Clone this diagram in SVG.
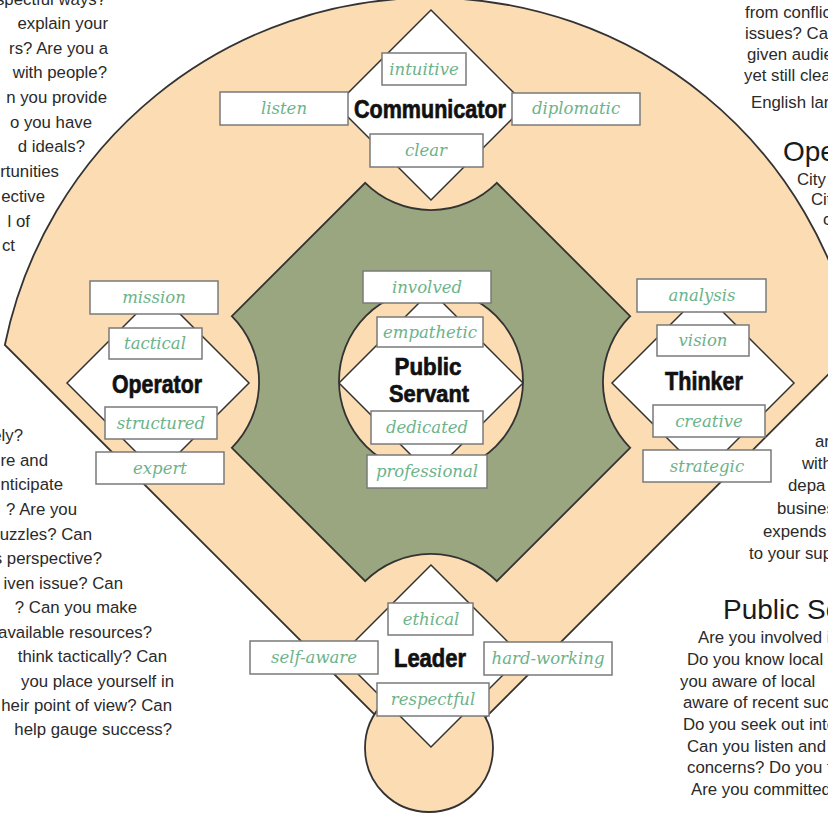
<svg xmlns="http://www.w3.org/2000/svg" width="828" height="814" viewBox="0 0 828 814">
<style>
.field{fill:#fbdcb3;stroke:#333;stroke-width:1.8}
.grass{fill:#99a67f;stroke:#333;stroke-width:1.8}
.base{fill:#fff;stroke:#333;stroke-width:1.5}
.box{fill:#fff;stroke:#7a7a7a;stroke-width:1.5}
.kw{font-family:"DejaVu Serif","Liberation Serif",serif;font-style:italic;font-size:16.5px;fill:#6cb38a;text-anchor:middle}
.title{font-family:"Liberation Sans Narrow","Liberation Sans",Arial,sans-serif;font-weight:bold;font-size:26px;fill:#111;stroke:#111;stroke-width:0.7;text-anchor:middle}
.title2{font-size:24px}
.body{font-family:"Liberation Sans",Arial,sans-serif;font-size:16.8px;fill:#2a2a2a}
.end{text-anchor:end}
.head{font-family:"Liberation Sans",Arial,sans-serif;font-size:28px;fill:#1a1a1a}
</style>
<rect width="828" height="814" fill="#fff"/>

<g id="field">
  <path class="field" d="M431.5,771.5 L4.85,345 A434,434 0 0 1 855.7,347 Z"/>
  <path class="grass" d="M365.2,182.8 A93,93 0 0 0 496.8,182.8 L630.2,316.2 A93,93 0 0 0 630.2,447.8 L496.8,581.2 A93,93 0 0 0 365.2,581.2 L231.8,447.8 A93,93 0 0 0 231.8,316.2 Z"/>
  <circle class="field" cx="431" cy="381" r="92"/>
  <circle class="field" cx="429" cy="748" r="64"/>
</g>

<g id="connectors"></g>

<g id="communicator">
  <polygon class="base" points="431,10 526,105 431,200 336,105"/>
  <rect class="box" x="382" y="53" width="84" height="32"/>
  <rect class="box" x="220" y="92" width="128" height="33"/>
  <rect class="box" x="512" y="93" width="128" height="32"/>
  <rect class="box" x="370" y="134" width="113" height="33"/>
  <text class="kw" x="424" y="75">intuitive</text>
  <text class="kw" x="284" y="114">listen</text>
  <text class="kw" x="576" y="114">diplomatic</text>
  <text class="kw" x="426" y="156">clear</text>
  <text class="title" x="430" y="118" textLength="152" lengthAdjust="spacingAndGlyphs">Communicator</text>
</g>

<g id="operator">
  <polygon class="base" points="158,292 249,383 158,474 67,383"/>
  <rect class="box" x="90" y="281" width="128" height="33"/>
  <rect class="box" x="109" y="328" width="93" height="31"/>
  <rect class="box" x="105" y="407" width="112" height="32"/>
  <rect class="box" x="96" y="452" width="128" height="32"/>
  <text class="kw" x="154" y="303">mission</text>
  <text class="kw" x="155" y="349">tactical</text>
  <text class="kw" x="161" y="429">structured</text>
  <text class="kw" x="160" y="474">expert</text>
  <text class="title" x="157" y="393" textLength="90" lengthAdjust="spacingAndGlyphs">Operator</text>
</g>

<g id="thinker">
  <polygon class="base" points="703,292 794,383 703,474 612,383"/>
  <rect class="box" x="637" y="279" width="129" height="33"/>
  <rect class="box" x="657" y="325" width="92" height="31"/>
  <rect class="box" x="653" y="405" width="112" height="32"/>
  <rect class="box" x="643" y="450" width="128" height="32"/>
  <text class="kw" x="702" y="301">analysis</text>
  <text class="kw" x="703" y="346">vision</text>
  <text class="kw" x="709" y="427">creative</text>
  <text class="kw" x="707" y="472">strategic</text>
  <text class="title" x="704" y="390" textLength="78" lengthAdjust="spacingAndGlyphs">Thinker</text>
</g>

<g id="public-servant">
  <polygon class="base" points="431,291 523,383 431,475 339,383"/>
  <rect class="box" x="363" y="271" width="128" height="32"/>
  <rect class="box" x="377" y="317" width="106" height="30"/>
  <rect class="box" x="371" y="411" width="112" height="33"/>
  <rect class="box" x="367" y="455" width="120" height="33"/>
  <text class="kw" x="427" y="293">involved</text>
  <text class="kw" x="430" y="338">empathetic</text>
  <text class="kw" x="427" y="433">dedicated</text>
  <text class="kw" x="427" y="477">professional</text>
  <text class="title title2" x="428" y="375" textLength="67" lengthAdjust="spacingAndGlyphs">Public</text>
  <text class="title title2" x="429" y="402" textLength="80" lengthAdjust="spacingAndGlyphs">Servant</text>
</g>

<g id="leader">
  <polygon class="base" points="431,565 522,656 431,747 340,656"/>
  <rect class="box" x="388" y="603" width="85" height="32"/>
  <rect class="box" x="250" y="641" width="128" height="33"/>
  <rect class="box" x="484" y="642" width="128" height="33"/>
  <rect class="box" x="377" y="683" width="112" height="33"/>
  <text class="kw" x="431" y="625">ethical</text>
  <text class="kw" x="314" y="663">self-aware</text>
  <text class="kw" x="548" y="664">hard-working</text>
  <text class="kw" x="433" y="705">respectful</text>
  <text class="title" x="430" y="667" textLength="72" lengthAdjust="spacingAndGlyphs">Leader</text>
</g>

<g id="text-left-top" class="body end">
  <text x="106" y="5">spectful ways?</text>
  <text x="108" y="29">explain your</text>
  <text x="108" y="54">rs? Are you a</text>
  <text x="107" y="78">with people?</text>
  <text x="107" y="103">n you provide</text>
  <text x="92" y="128">o you have</text>
  <text x="85" y="152">d ideals?</text>
  <text x="59" y="177">rtunities</text>
  <text x="45" y="202">ective</text>
  <text x="30" y="227">l of</text>
  <text x="15" y="251">ct</text>
</g>

<g id="text-left-bottom" class="body end">
  <text x="23" y="441">ely?</text>
  <text x="48" y="466">re and</text>
  <text x="63" y="490">nticipate</text>
  <text x="77" y="515">? Are you</text>
  <text x="92" y="540">uzzles? Can</text>
  <text x="102" y="564">s perspective?</text>
  <text x="123" y="589">iven issue? Can</text>
  <text x="137" y="613">? Can you make</text>
  <text x="152" y="638">available resources?</text>
  <text x="167" y="662">think tactically? Can</text>
  <text x="174" y="687">you place yourself in</text>
  <text x="172" y="711">heir point of view? Can</text>
  <text x="172" y="735">help gauge success?</text>
</g>

<g id="text-right-top" class="body">
  <text x="745" y="18">from conflic</text>
  <text x="745" y="39">issues? Can</text>
  <text x="747" y="60">given audie</text>
  <text x="744" y="81">yet still clear</text>
  <text x="751" y="108">English lang</text>
  <text class="head" x="783" y="161">Ope</text>
  <text x="797" y="185">City</text>
  <text x="811" y="205">Cit</text>
  <text x="823" y="225">c</text>
</g>

<g id="text-right-middle" class="body">
  <text x="815" y="447">an</text>
  <text x="802" y="469">with</text>
  <text x="788" y="491">depa</text>
  <text x="777" y="514">busines</text>
  <text x="763" y="537">expends</text>
  <text x="749" y="559">to your sup</text>
</g>

<g id="text-right-bottom" class="body">
  <text class="head" x="723" y="619">Public Se</text>
  <text x="698" y="643">Are you involved i</text>
  <text x="687" y="665">Do you know local</text>
  <text x="680" y="687">you aware of local</text>
  <text x="683" y="708">aware of recent suc</text>
  <text x="683" y="730">Do you seek out inte</text>
  <text x="687" y="752">Can you listen and</text>
  <text x="687" y="773">concerns? Do you f</text>
  <text x="691" y="795">Are you committed</text>
</g>
</svg>
